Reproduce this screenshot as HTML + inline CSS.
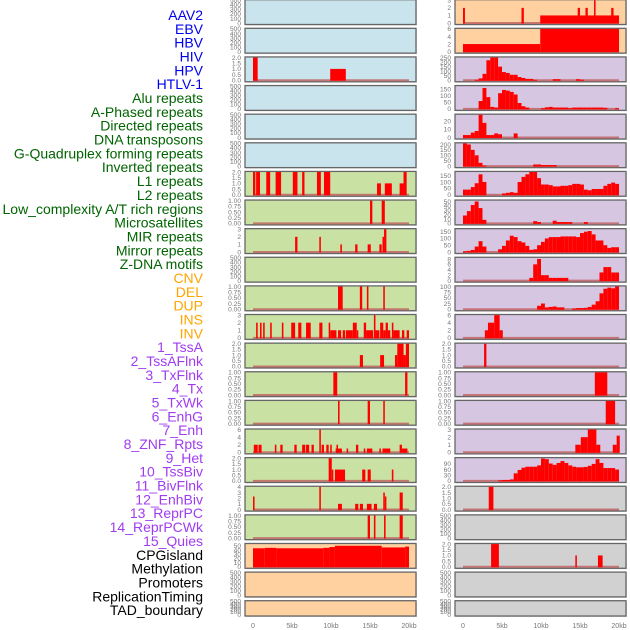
<!DOCTYPE html>
<html><head><meta charset="utf-8">
<style>
html,body{margin:0;padding:0;background:#fff;}
svg{display:block;font-family:"Liberation Sans",sans-serif;}
</style></head>
<body>
<svg id="chart" width="630" height="630" viewBox="0 0 630 630" xmlns="http://www.w3.org/2000/svg"></svg>
<script>
// ---------- label legend data ----------
const labelNames = ["AAV2","EBV","HBV","HIV","HPV","HTLV-1","Alu repeats","A-Phased repeats","Directed repeats","DNA transposons","G-Quadruplex forming repeats","Inverted repeats","L1 repeats","L2 repeats","Low_complexity A/T rich regions","Microsatellites","MIR repeats","Mirror repeats","Z-DNA motifs","CNV","DEL","DUP","INS","INV","1_TssA","2_TssAFlnk","3_TxFlnk","4_Tx","5_TxWk","6_EnhG","7_Enh","8_ZNF_Rpts","9_Het","10_TssBiv","11_BivFlnk","12_EnhBiv","13_ReprPC","14_ReprPCWk","15_Quies","CPGisland","Methylation","Promoters","ReplicationTiming","TAD_boundary"];
const labelGroups = ["v","v","v","v","v","v","r","r","r","r","r","r","r","r","r","r","r","r","r","s","s","s","s","s","c","c","c","c","c","c","c","c","c","c","c","c","c","c","c","o","o","o","o","o"];

// ---------- x axis ----------
const xTickValues = [0,5,10,15,20];
const xTickLabels = ["0","5kb","10kb","15kb","20kb"];

// ---------- left column segment data [startKb, endKb, value] ----------
const segL2 = [[0,0.6,2],[9.9,11.9,1]];
const segL6 = [[0,0.3,2],[0.4,0.9,2],[1.7,2.2,2],[2.9,3.6,2],[5.1,5.7,2],[6.3,6.6,2],[8.2,8.7,2],[9.1,9.9,2],[15.9,16.4,1],[16.9,17.8,1],[18.8,19.3,1],[19.3,19.7,2]];
const segL7 = [[15,15.3,1],[16.5,16.9,1]];
const segL8 = [[5.4,5.7,2],[8.5,8.7,2],[11.2,11.4,1],[13.1,13.4,1],[14.7,15.1,1],[16.2,16.5,1],[16.6,16.8,2],[16.8,17.1,3]];
const segL10 = [[10.9,11.5,1],[13.7,14,1],[14.6,14.8,1],[16.7,16.9,1]];
const segL11 = [[0.4,0.6,2],[0.9,1.1,2],[1.3,1.5,2],[2.2,2.4,2],[3.7,3.9,2],[4.9,5.4,2],[5.8,6.2,2],[6.8,7.4,2],[8.5,8.9,2],[9.7,9.9,2],[9.9,10.7,1],[10.9,11.3,1],[11.5,11.8,1],[11.9,12.8,1],[12.8,13.3,2],[13.3,13.5,1],[14.2,14.5,2],[14.5,15.4,1],[15.5,15.7,3],[15.7,16.2,1],[16.3,16.7,2],[16.7,17,1],[17,17.3,2],[17.3,17.6,1],[17.8,18,2],[18,18.8,1],[19.1,19.4,1],[19.7,20,1]];
const segL12 = [[13.7,14.1,1],[16.3,16.8,1],[18.2,18.5,1],[18.5,19.3,2],[19.3,19.6,1],[19.6,20,2]];
const segL13 = [[10.3,10.8,1],[19.5,19.8,1]];
const segL14 = [[10.9,11.1,1],[14.7,15,1],[16.7,16.9,1]];
const segL15 = [[0.1,0.6,2],[0.7,1.1,2],[2.8,3,2],[3.5,3.8,2],[5.3,5.6,2],[6.3,6.7,2],[6.8,7.2,2],[7.5,7.8,2],[8.5,8.7,6],[8.8,9.1,2],[9.4,9.7,2],[9.9,10.1,2],[10.6,11.4,1],[10.7,10.9,2],[12,12.2,1],[13.2,13.5,2],[14.2,14.4,1],[14.6,15.3,1],[16.2,16.4,1],[16.6,17.6,1],[18.8,19.1,2],[19.1,19.8,1]];
const segL16 = [[9.7,10.1,2],[10.1,10.3,1],[10.5,11.8,1],[14,14.4,1],[14.7,15.1,1],[17.8,18,1]];
const segL17 = [[0,0.2,2.3],[8.5,8.7,4],[10.9,11.4,1],[13.1,13.5,1],[13.7,14.1,1],[14.6,15.2,1],[15.5,15.9,1],[16.7,16.9,3],[16.9,17.1,2.3],[18.8,19.2,3]];
const segL18 = [[14.7,15,1],[15.5,15.7,1],[16.8,17,1],[18.8,19.2,1]];
const segL19 = [[0,1.5,44],[1.5,3,45],[3,9,44],[9,9.8,45],[9.8,10.5,47],[10.5,16.5,50],[16.5,19.5,46],[19.5,20,48]];

// ---------- right column data ----------
const segR0 = [[0,0.25,2],[7.5,7.8,2],[9.9,20,1],[14.7,15,2],[15.7,16,2],[16.8,17,3],[19,19.3,2]];
const segR1 = [[0,9.9,2],[9.9,20,6]];
// 0.5kb bins from 0 to 20kb (40 values)
const binR2 = [0,0,0,5,20,70,220,250,250,150,90,80,60,60,35,25,15,15,5,0,0,0,0,12,12,0,0,0,0,12,6,0,0,0,0,0,0,0,0,0];
const binR3 = [0,0,0,0,60,160,90,15,10,120,145,140,130,110,45,20,10,0,0,0,5,12,15,10,10,10,10,5,10,10,10,10,10,10,10,10,8,0,0,5];
const binR4 = [3,3,6,8,28,18,3,3,5,4,0,0,0,5,0,0,0,0,0,0,0,0,0,0,0,0,0,0,0,0,0,0,0,0,0,0,0,0,0,0];
const binR5 = [210,200,150,100,30,5,0,0,0,0,0,0,0,0,0,0,0,0,15,15,10,10,10,10,0,0,0,0,0,0,0,0,0,0,0,0,0,0,0,0];
const binR6 = [40,40,60,90,160,100,0,0,0,0,10,15,20,15,100,140,160,180,180,130,80,80,75,65,65,70,70,75,85,85,80,40,35,45,45,45,70,85,95,85];
const binR7 = [18,28,42,50,35,8,0,0,0,0,0,0,0,0,0,0,0,0,5,3,0,0,0,6,3,3,3,3,0,0,0,3,0,0,0,0,0,0,0,0];
const binR8 = [5,8,15,40,80,40,0,0,0,20,45,85,120,110,80,70,45,15,20,50,75,100,110,110,110,115,115,115,115,110,140,150,155,130,85,85,50,30,35,35];
const binR9 = [0,0,0,0,0,0,0,0,0,0,0,0,0,0,0,0,0,1,6,8,2,2,1,1,1,1,1,0,0,0,0,0,0,0,0,3,5,5,3,3];
const binR10 = [0,0,0,0,0,0,0,0,0,0,0,0,0,0,0,0,0,0,0,15,25,8,10,12,8,8,0,0,3,5,5,6,10,20,35,70,90,95,92,100];
const segR11 = [[2.8,3.2,2],[3.2,4,4],[4,4.7,6],[4.7,5.1,2]];
const segR12 = [[2.7,3.0,2]];
const segR13 = [[16.9,18.5,1]];
const segR14 = [[18.3,19.5,1]];
const segR15 = [[14.4,15.1,1],[15.1,16,2],[16,17.1,3],[17.1,17.6,1],[19.2,19.7,1],[19.7,20.1,2.2]];
const binR16 = [0,0,0,0,0,0,0,0,0,3,5,5,8,40,58,70,75,75,75,82,118,115,92,85,95,105,95,82,75,72,72,74,80,90,115,95,68,68,68,60];
const segR17 = [[3.3,3.9,2]];
const segR19 = [[3.6,4.6,2],[14.4,14.6,1],[17.3,17.9,1]];

// ---------- tick value sets ----------
const ticksEmpty = [0,100,200,300,400,500];
const ticks2 = [0,0.5,1,1.5,2];
const ticks1 = [0,0.25,0.5,0.75,1];
const ticks3 = [0,1,2,3];

const BG = {b:"#c9e4ec", g:"#c9e1a3", p:"#d6c6e2", o:"#ffd1a0", k:"#d1d1d1"};
const leftPanels = [
 [null,"s",500,ticksEmpty,"b"],[null,"s",500,ticksEmpty,"b"],[segL2,"s",2,ticks2,"b"],
 [null,"s",500,ticksEmpty,"b"],[null,"s",500,ticksEmpty,"b"],[null,"s",500,ticksEmpty,"b"],
 [segL6,"s",2,ticks2,"g"],[segL7,"s",1,ticks1,"g"],[segL8,"s",3,ticks3,"g"],
 [null,"s",500,ticksEmpty,"g"],[segL10,"s",1,ticks1,"g"],[segL11,"s",3,ticks3,"g"],
 [segL12,"s",2,ticks2,"g"],[segL13,"s",1,ticks1,"g"],[segL14,"s",1,ticks1,"g"],
 [segL15,"s",6,[0,2,4,6],"g"],[segL16,"s",2,ticks2,"g"],[segL17,"s",4,[0,1,2,3,4],"g"],
 [segL18,"s",1,ticks1,"g"],[segL19,"s",54,[0,10,20,30,40,50],"o"],
 [null,"s",500,ticksEmpty,"o"],[null,"s",500,ticksEmpty,"o"]
];
const rightPanels = [
 [segR0,"s",3,ticks3,"o"],[segR1,"s",6,[0,2,4,6],"o"],[binR2,"b",250,[0,50,100,150,200,250],"p"],
 [binR3,"b",174,[0,50,100,150],"p"],[binR4,"b",28,[0,10,20],"p"],[binR5,"b",210,[0,50,100,150,200],"p"],
 [binR6,"b",178,[0,50,100,150],"p"],[binR7,"b",52,[0,10,20,30,40,50],"p"],[binR8,"b",168,[0,50,100,150],"p"],
 [binR9,"b",8.4,[0,2,4,6,8],"p"],[binR10,"b",100,[0,25,50,75,100],"p"],[segR11,"s",6,[0,2,4,6],"p"],
 [segR12,"s",2,ticks2,"p"],[segR13,"s",1,ticks1,"p"],[segR14,"s",1,ticks1,"p"],
 [segR15,"s",3,ticks3,"p"],[binR16,"b",120,[0,30,60,90],"p"],[segR17,"s",2,ticks2,"k"],
 [null,"s",500,ticksEmpty,"k"],[segR19,"s",2,ticks2,"k"],
 [null,"s",500,ticksEmpty,"k"],[null,"s",500,ticksEmpty,"k"]
];

const NS = "http://www.w3.org/2000/svg";
const svg = document.getElementById("chart");
function mk(tag, attrs, parent){ const e=document.createElementNS(NS,tag); for(const k in attrs) e.setAttribute(k,attrs[k]); (parent||svg).appendChild(e); return e; }

const colors = {v:"#0000ee", r:"#006400", s:"#ffa500", c:"#a03cf0", o:"#000000"};
labelNames.forEach((n,i)=>{
  const t = mk("text",{x:203,y:15+i*13.84+5,"text-anchor":"end","font-size":"14",fill:colors[labelGroups[i]]});
  
  
  t.textContent = n;
});

function fmt(v, ticks){
  const mx = ticks[ticks.length-1];
  if (mx===1) return v.toFixed(2);
  if (mx===2) return v.toFixed(1);
  return String(v);
}

function drawPanel(cfg, i, px, x0){
  const [data, kind, ymax, ticks, bg] = cfg;
  const top = -0.3 + 28.62*i;
  const h = (i===21) ? 15.3 : 24.8;
  const w = 171;
  const g = mk("g",{});
  
  
  mk("rect",{x:px+1,y:top+1,width:w,height:h,fill:"#bbb",opacity:0.5},g);
  const r = mk("rect",{x:px,y:top,width:w,height:h,fill:BG[bg],stroke:"#666","stroke-width":1.3},g);
  
  
  const y0 = top + h - 1.5, yt = top + 0.6;
  const yS = v => y0 - (Math.min(v,ymax)/ymax)*(y0-yt);
  const xS = k => x0 + k*7.8;
  ticks.forEach(v=>{
    const t = mk("text",{x:px-4,y:yS(v)+2.3,"text-anchor":"end","font-size":"6.6",fill:"#777"},g);
    
    
    t.textContent = fmt(v,ticks);
  });
  if (!data) return;
  const bl = mk("line",{x1:xS(0),x2:xS(20),y1:y0,y2:y0,stroke:"#c06060","stroke-width":2,opacity:0.8},g);
  
  
  const segs = kind==="b" ? data.map((v,j)=>[j*0.5,(j+1)*0.5,v]) : data;
  segs.forEach(s=>{
    if (s[2]<=0) return;
    const b = mk("rect",{x:xS(s[0]),y:yS(s[2]),width:Math.max(xS(s[1])-xS(s[0]),1.2),height:y0-yS(s[2])+0.5,fill:"#ff0000"},g);
    
    
  });
}
leftPanels.forEach((c,i)=>drawPanel(c,i,245,253));
rightPanels.forEach((c,i)=>drawPanel(c,i,455,463));

[253,463].forEach(x0=>{
  xTickValues.forEach((v,j)=>{
    const t = mk("text",{x:x0+v*7.8,y:628,"text-anchor":"middle","font-size":"7",fill:"#777"});
    
    
    t.textContent = xTickLabels[j];
  });
});
</script>
</body></html>
